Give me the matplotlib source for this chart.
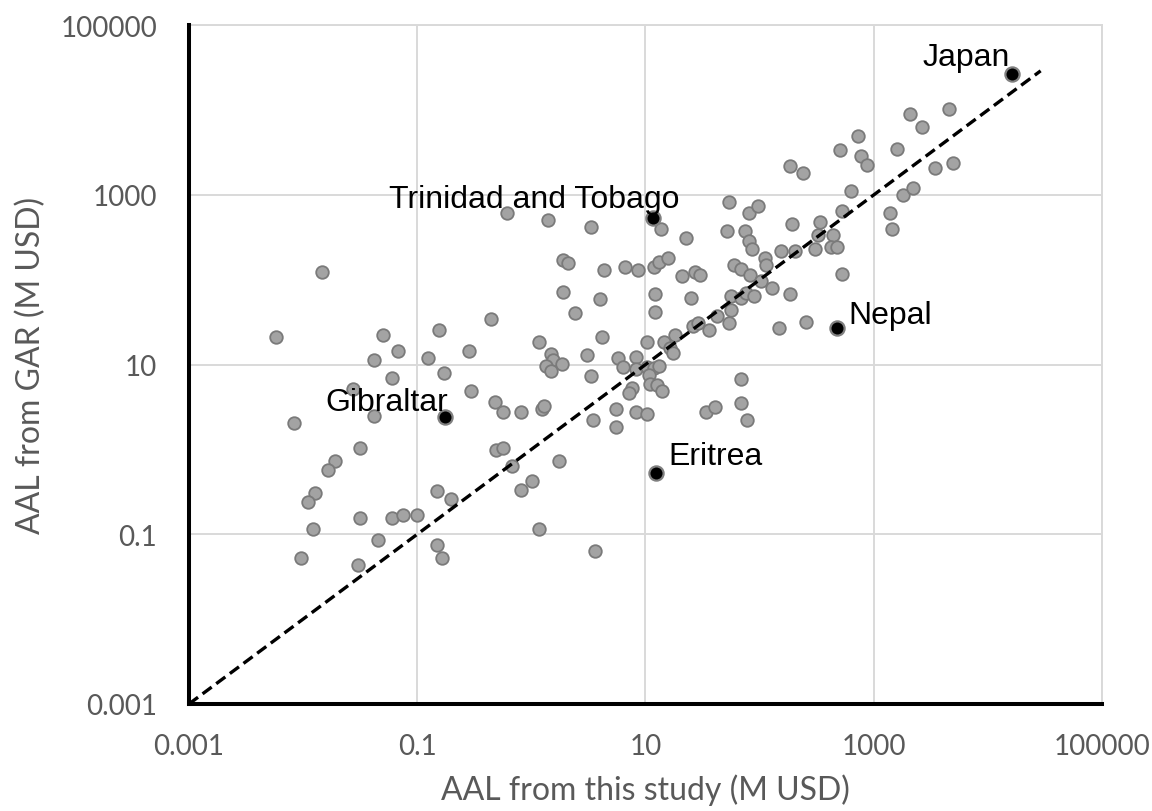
import matplotlib
matplotlib.use("Agg")
import matplotlib.pyplot as plt
import numpy as np

# AAL values (M USD): this study (x) vs GAR (y)
study_aal = [0.0146, 0.00582, 0.0499, 0.156, 0.446, 0.0682, 0.0416, 0.124, 0.282, 0.0598,
             0.171, 0.0274, 0.296, 0.485, 0.561, 0.0416, 0.00838, 0.0316, 0.487, 0.561,
             0.0191, 0.0166, 0.0126, 0.0110, 0.148, 0.197, 0.0316, 0.0598, 0.0755, 0.0991,
             0.0121, 0.0453, 0.148, 0.00964, 0.0305, 0.164, 0.608, 1.39, 3.32, 13.7,
             22.7, 1.91, 2.11, 4.37, 6.62, 8.67, 11.9, 13.2, 15.9, 20.8,
             27.2, 30.1, 1.91, 3.97, 12.0, 24.9, 2.42, 12.0, 4.19, 1.16,
             1.48, 1.56, 1.34, 1.48, 1.87, 3.06, 5.78, 6.32, 8.28, 8.28,
             10.4, 14.4, 16.4, 17.5, 18.2, 25.9, 28.9, 35.7, 42.5, 10.3,
             11.9, 13.2, 10.8, 11.0, 12.6, 13.9, 7.59, 7.18, 3.32, 0.807,
             1.23, 1.29, 5.52, 8.28, 10.4, 3.49, 5.52, 34.0, 40.7, 0.673,
             1.76, 1.01, 0.807, 1.16, 3.64, 54.3, 56.6, 56.0, 68.9, 76.2,
             89.5, 59.4, 68.9, 82.6, 103, 129, 186, 112, 113, 155,
             203, 51.6, 54.1, 75.1, 81.4, 85.9, 81.4, 97.5, 194, 306,
             324, 339, 438, 426, 475, 532, 532, 634, 147, 256,
             186, 242, 508, 735, 767, 875, 1393, 1459, 1820, 2203,
             1592, 2084, 2642, 3451, 4989, 4529, 68.4, 68.4, 78.2]
gar_aal = [124, 21.0, 22.4, 25.4, 34.5, 14.6, 11.4, 12.1, 14.6, 7.02,
           7.94, 5.16, 4.85, 3.58, 2.77, 2.45, 2.06, 1.05, 0.986, 1.05,
           0.733, 0.569, 0.308, 0.240, 0.328, 0.258, 0.157, 0.157, 0.168, 0.168,
           0.116, 0.0859, 0.0757, 0.0523, 0.0438, 0.0523, 615, 505, 422, 396,
           310, 171, 158, 132, 141, 132, 141, 163, 181, 110,
           124, 113, 71.6, 59.8, 67.1, 60.3, 40.9, 41.3, 21.2, 18.6,
           13.3, 11.3, 9.53, 8.48, 10.1, 12.9, 12.1, 9.44, 12.4, 8.85,
           18.7, 18.7, 15.7, 13.7, 22.4, 28.6, 30.7, 25.4, 37.2, 9.27,
           9.15, 9.53, 7.46, 5.86, 5.70, 4.85, 5.30, 4.59, 7.33, 2.77,
           2.96, 3.24, 3.01, 2.80, 2.62, 2.20, 1.83, 2.80, 3.15, 0.644,
           0.726, 0.419, 0.332, 0.116, 0.0627, 30.7, 44.5, 63.6, 60.3, 69.7,
           64.3, 151, 133, 115, 98.0, 80.5, 67.1, 181, 149, 217,
           217, 372, 821, 372, 284, 229, 615, 737, 453, 229,
           334, 479, 334, 242, 242, 117, 638, 1126, 26.8, 32.1,
           2213, 1832, 3373, 4920, 2844, 2228, 615, 396, 1000, 1199,
           3436, 9075, 6280, 2085, 2355, 10250, 6.76, 3.57, 2.20]

# highlighted countries
names = ["Japan", "Trinidad and Tobago", "Nepal", "Eritrea", "Gibraltar"]
name_study = [16200, 11.7, 475, 12.3, 0.175]
name_gar = [26800, 533, 26.8, 0.533, 2.42]

one_to_one = [0.001, 29000]
tick_vals = [0.001, 0.1, 10, 1000, 100000]
tick_labels = ["0.001", "0.1", "10", "1000", "100000"]

fig = plt.figure(figsize=(11.52, 8.12), dpi=100)
ax = fig.add_axes([0.164, 0.1318, 0.7926, 0.8359])

ax.scatter(study_aal, gar_aal, s=82, color="#a3a3a3", edgecolors="#7a7a7a",
           linewidths=1.3, zorder=3)
ax.plot(one_to_one, one_to_one, color="black", lw=2.4, dashes=(3.4, 1.7),
        zorder=4, clip_on=False)
ax.scatter(name_study, name_gar, s=105, color="black", edgecolors="#808080",
           linewidths=1.6, zorder=5)

# label offsets (points) and alignment
offsets = [(-1.5, 6), (19, 7.7), (8, 4), (9, 6), (2.2, 5.3)]
aligns = ["right", "right", "left", "left", "right"]
for n, xs, ys, off, ha in zip(names, name_study, name_gar, offsets, aligns):
    ax.annotate(n, (xs, ys), xytext=off, textcoords="offset points",
                ha=ha, va="baseline", fontsize=23, family="Liberation Sans",
                color="black", zorder=6)

ax.set_xscale("log")
ax.set_yscale("log")
ax.set_xlim(0.001, 100000)
ax.set_ylim(0.001, 100000)
ax.set_xticks(tick_vals)
ax.set_xticklabels(tick_labels)
ax.set_yticks(tick_vals)
ax.set_yticklabels(tick_labels)
ax.minorticks_off()
ax.tick_params(axis="both", length=0, labelsize=20, labelcolor="#595959")
ax.tick_params(axis="x", pad=21)
ax.tick_params(axis="y", pad=23)
for lab in ax.get_xticklabels() + ax.get_yticklabels():
    lab.set_family("Lato")

ax.grid(True, color="#d9d9d9", lw=1.4, zorder=0)
ax.set_axisbelow(True)
for side in ["top", "right"]:
    ax.spines[side].set_color("#d9d9d9")
    ax.spines[side].set_linewidth(1.4)
for side in ["left", "bottom"]:
    ax.spines[side].set_color("black")
    ax.spines[side].set_linewidth(2.9)
    ax.spines[side].set_zorder(5)

ax.set_xlabel("AAL from this study (M USD)", fontsize=23, family="Lato",
              color="#595959", labelpad=10)
ax.set_ylabel("AAL from GAR (M USD)", fontsize=23, family="Lato",
              color="#595959", labelpad=10)

fig.savefig("out.png", dpi=100)
